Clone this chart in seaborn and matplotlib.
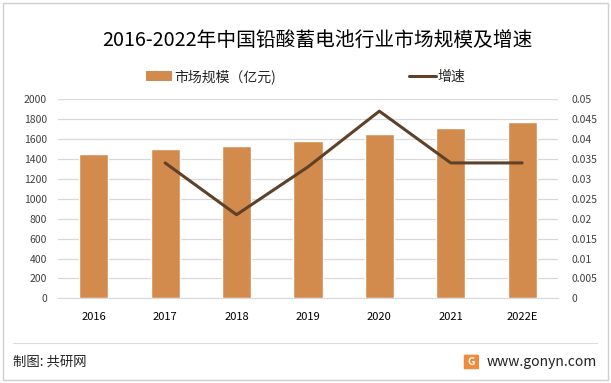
import numpy as np
import pandas as pd
import seaborn as sns
import matplotlib.pyplot as plt
from matplotlib.patches import Rectangle, Patch, FancyBboxPatch
from matplotlib.lines import Line2D

# chart values
years = ['2016', '2017', '2018', '2019', '2020', '2021', '2022E']
market_size = [1450, 1500, 1530, 1580, 1650, 1710, 1770]
growth = [np.nan, 0.034, 0.021, 0.033, 0.047, 0.034, 0.034]
left_ticks = [0, 200, 400, 600, 800, 1000, 1200, 1400, 1600, 1800, 2000]
right_ticks = [0, 0.005, 0.01, 0.015, 0.02, 0.025, 0.03, 0.035, 0.04, 0.045, 0.05]
right_labels = ['0', '0.005', '0.01', '0.015', '0.02', '0.025', '0.03', '0.035', '0.04', '0.045', '0.05']

bar_color = '#D38B4D'
line_color = '#5E4129'

sns.set_style('white')
plt.rcParams['font.family'] = ['Noto Sans CJK SC', 'DejaVu Sans']

df = pd.DataFrame({'year': years, 'size': market_size, 'growth': growth,
                   'pos': np.arange(len(years))})

fig = plt.figure(figsize=(6.11, 3.83), dpi=100)
ax = fig.add_axes([0.095, 0.221, 0.818, 0.52])

sns.barplot(data=df, x='year', y='size', color=bar_color, width=0.41,
            saturation=1, ax=ax, zorder=2)
ax.set_xlim(-0.5, len(years) - 0.5)
ax.set_ylim(0, 2000)
ax.set_yticks(left_ticks)
ax.set_yticklabels([str(t) for t in left_ticks])
ax.grid(axis='y', color='#D9D9D9', linewidth=0.9, zorder=0)
ax.set_axisbelow(True)
ax.set_xlabel('')
ax.set_ylabel('')
for s in ax.spines.values():
    s.set_visible(False)
ax.spines['bottom'].set_visible(True)
ax.spines['bottom'].set_color('#D9D9D9')
ax.tick_params(axis='y', length=0, labelsize=7.5, labelcolor='#404040', pad=8)
ax.tick_params(axis='x', length=0, labelsize=8, labelcolor='#000000', pad=10)

ax2 = ax.twinx()
sns.lineplot(data=df.dropna(), x='pos', y='growth', color=line_color,
             linewidth=2.2, ax=ax2)
ax2.set_ylim(0, 0.05)
ax2.set_yticks(right_ticks)
ax2.set_yticklabels(right_labels)
ax2.set_xlim(-0.5, len(years) - 0.5)
ax2.set_ylabel('')
ax2.set_xlabel('')
for s in ax2.spines.values():
    s.set_visible(False)
ax2.tick_params(axis='y', length=0, labelsize=7.5, labelcolor='#404040', pad=10)

fig.text(0.52, 0.895, '2016-2022年中国铅酸蓄电池行业市场规模及增速',
         ha='center', va='center', fontsize=14.2, color='#000000')

handles = [Patch(facecolor=bar_color, edgecolor='none'),
           Line2D([0], [0], color=line_color, linewidth=2.2)]
fig.legend(handles, ['市场规模（亿元)', '增速'], loc='center',
           bbox_to_anchor=(0.5, 0.8), ncol=2, frameon=False, fontsize=10,
           columnspacing=9.6, handlelength=1.9, handletextpad=0.15)

# outer border and footer
fig.patches.append(Rectangle((0.005, 0.008), 0.99, 0.984, transform=fig.transFigure,
                             fill=False, edgecolor='#D0D0D0', linewidth=1))
fig.add_artist(Line2D([0.021, 0.977], [0.105, 0.105], transform=fig.transFigure,
                      color='#DDDDDD', linewidth=0.8))
fig.text(0.021, 0.055, '制图: 共研网', ha='left', va='center', fontsize=9.6, color='#222222')
fig.text(0.977, 0.055, 'www.gonyn.com', ha='right', va='center', fontsize=10, color='#222222')
fig.patches.append(FancyBboxPatch((0.761, 0.038), 0.021, 0.034,
                                  boxstyle='round,pad=0.002', transform=fig.transFigure,
                                  facecolor='#F08A3C', edgecolor='none'))
fig.text(0.7715, 0.055, 'G', ha='center', va='center', fontsize=7.5,
         color='white', fontweight='bold')

fig.savefig('out.png', dpi=100)
